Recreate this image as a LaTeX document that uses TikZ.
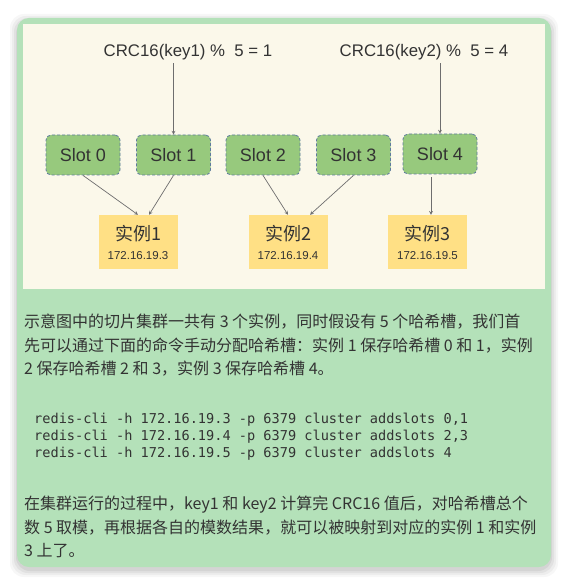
\documentclass[tikz,border=0pt]{standalone}
\usepackage{fontspec}
\setmainfont{Liberation Sans}
\setmonofont{DejaVu Sans Mono}
\newfontfamily\cjk{Noto Sans CJK SC}
\usepackage{xcolor}
\definecolor{outergreen}{HTML}{B4E1B9}
\definecolor{cream}{HTML}{FBF8EA}
\definecolor{slotfill}{HTML}{97C97D}
\definecolor{slotborder}{HTML}{5E7A9E}
\definecolor{instfill}{HTML}{FFE085}
\definecolor{arrowgray}{HTML}{6E6E6E}
\definecolor{txtdark}{HTML}{333333}
\newcommand{\FS}{\fontsize{18}{20}\selectfont}
\newcommand{\IPS}{\fontsize{11.5}{19}\selectfont}

\begin{document}
\begin{tikzpicture}[x=1pt,y=-1pt]
\tikzstyle{slotbox}=[draw=slotborder,fill=slotfill,densely dashed,rounded corners=5pt,line width=0.8pt,minimum width=74pt,minimum height=40pt,text=txtdark,font=\FS]
\tikzstyle{instbox}=[fill=instfill,minimum width=79pt,minimum height=54pt,align=center,text=txtdark,font=\IPS]
\tikzstyle{formula}=[text=txtdark,font=\fontsize{16.8}{20}\selectfont]
\tikzstyle{line}=[arrowgray,line width=0.7pt,-stealth]
\tikzstyle{para}=[anchor=north west,align=left,inner sep=0pt,text=txtdark,font=\cjk\fontsize{16}{23.5}\selectfont]

\useasboundingbox (0,0) rectangle (568,585);

% card with soft shadow
\foreach \s/\o in {7/0.03,5/0.04,3/0.05,1/0.06}
  \fill[black,opacity=\o,rounded corners=14pt] (17-\s,21-\s) rectangle (551+\s,570+\s);
\fill[outergreen,rounded corners=12pt] (17,18) rectangle (551,567);
\fill[cream] (23,24) rectangle (545,289);

% hash results
\node[formula] (crc1) at (188,52) {CRC16(key1) \%\ \ 5 = 1};
\node[formula] (crc2) at (424,52) {CRC16(key2) \%\ \ 5 = 4};

% slots
\node[slotbox] (slot0) at (83,155)    {Slot 0};
\node[slotbox] (slot1) at (173.5,155) {Slot 1};
\node[slotbox] (slot2) at (263,155)   {Slot 2};
\node[slotbox] (slot3) at (353.5,155) {Slot 3};
\node[slotbox] (slot4) at (440,154)   {Slot 4};

% instances
\node[instbox] (inst1) at (138,242)   {{\cjk\FS 实例1}\\172.16.19.3};
\node[instbox] (inst2) at (288,242)   {{\cjk\FS 实例2}\\172.16.19.4};
\node[instbox] (inst3) at (427.5,242) {{\cjk\FS 实例3}\\172.16.19.5};

\draw[line] (crc1.south -| slot1.north) -- (slot1.north);
\draw[line] (crc2.south -| slot4.north) -- (slot4.north);

\draw[line] (slot0.south) -- (inst1.north);
\draw[line] (slot1.south) -- ([xshift=11pt]inst1.north);
\draw[line] (slot2.south) -- (inst2.north);
\draw[line] (slot3.south) -- ([xshift=22pt]inst2.north);
\draw[line,shorten <=3pt] ([xshift=-9pt]slot4.south) -- ([xshift=-9pt]slot4.south |- inst3.north);

% explanation
\node[para] (desc1) at (24,314) {示意图中的切片集群一共有 3 个实例，同时假设有 5 个哈希槽，我们首\\
先可以通过下面的命令手动分配哈希槽：实例 1 保存哈希槽 0 和 1，实例\\
2 保存哈希槽 2 和 3，实例 3 保存哈希槽 4。};

\node[para,font=\ttfamily\fontsize{13.6}{17}\selectfont] (cmds) at (34,413) {redis-cli -h 172.16.19.3 -p 6379 cluster addslots 0,1\\
redis-cli -h 172.16.19.4 -p 6379 cluster addslots 2,3\\
redis-cli -h 172.16.19.5 -p 6379 cluster addslots 4};

\node[para] (desc2) at (24,496) {在集群运行的过程中，key1 和 key2 计算完 CRC16 值后，对哈希槽总个\\
数 5 取模，再根据各自的模数结果，就可以被映射到对应的实例 1 和实例\\
3 上了。};
\end{tikzpicture}
\end{document}
